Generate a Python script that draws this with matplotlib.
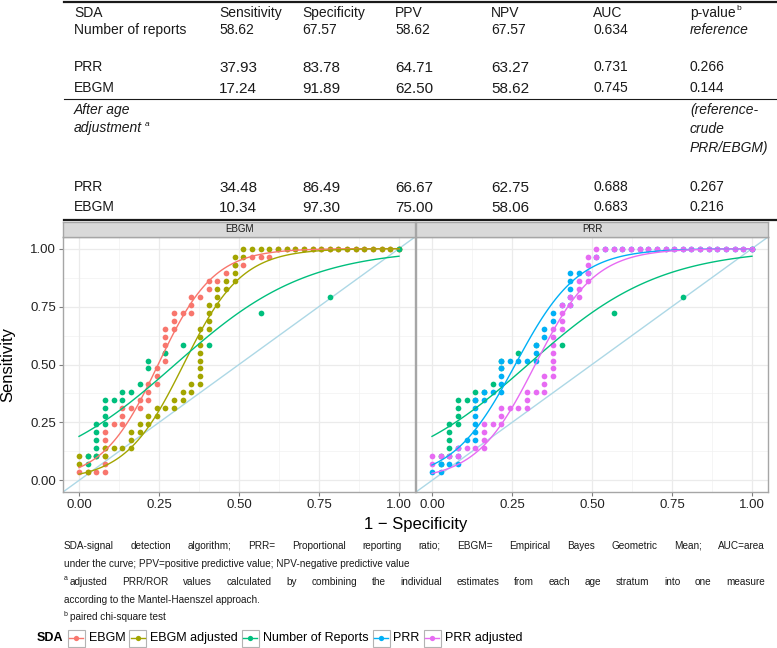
import numpy as np
import matplotlib
matplotlib.use("Agg")
import matplotlib.pyplot as plt
from matplotlib.patches import Rectangle
from matplotlib.lines import Line2D

plt.rcParams["font.family"] = ["Liberation Sans", "DejaVu Sans"]

W, H = 777, 648

# ROC points stored as counts: 37 controls (false positives), 29 cases (true positives)
n_neg = 37
n_pos = 29

ebgm_fp = [0, 1, 2, 3, 3, 3, 3, 3, 3, 4, 5, 5, 5, 6, 7, 7, 8, 8, 8, 9, 9, 9, 10, 10, 10, 10, 10,
           11, 11, 11, 12, 13, 13, 13, 14, 15, 15, 16, 17, 18, 19, 20, 21, 22,
           23, 24, 25, 26, 27, 28, 29, 30, 31, 32, 33, 34, 35, 36, 37]
ebgm_tp = [1, 1, 1, 1, 2, 3, 4, 5, 6, 7, 7, 8, 9, 9, 9, 10, 10, 11, 12, 12, 13, 14, 15, 16, 17, 18, 19,
           19, 20, 21, 21, 21, 22, 23, 23, 24, 25, 25, 26, 27, 27, 28, 28, 28,
           29, 29, 29, 29, 29, 29, 29, 29, 29, 29, 29, 29, 29, 29, 29]

ebgm_adj_fp = [0, 0, 1, 1, 2, 3, 3, 4, 5, 6, 6, 6, 7, 7, 8, 8, 9, 9, 10, 11,
               11, 12, 12, 13, 13, 14, 14, 14, 14, 14, 14, 14, 14, 15, 15, 15, 15, 16, 16, 16,
               17, 17, 18, 18, 18, 18, 19,
               19, 20, 21, 22, 23, 24, 25, 26, 27, 28, 29, 30, 31, 32, 33, 34, 35, 36, 37]
ebgm_adj_tp = [2, 3, 1, 3, 3, 3, 4, 4, 4, 4, 5, 6, 6, 7, 7, 8, 8, 9, 9, 9,
               10, 10, 11, 11, 12, 12, 13, 14, 15, 16, 17, 18, 19, 19, 20, 21, 22, 22, 23, 24,
               24, 25, 25, 26, 27, 28, 28,
               29, 29, 29, 29, 29, 29, 29, 29, 29, 29, 29, 29, 29, 29, 29, 29, 29, 29, 29]

reports_fp = [1, 1, 2, 2, 2, 2, 2, 3, 3, 3, 3, 4, 5, 5, 6, 7, 8, 8, 10, 12, 15, 21, 29, 37]
reports_tp = [2, 3, 3, 4, 5, 6, 7, 7, 8, 9, 10, 10, 10, 11, 11, 12, 14, 15, 16, 17, 17, 21, 23, 29]

prr_fp = [0, 1, 1, 2, 3, 3, 3, 4, 5, 5, 5, 5, 5, 5, 6, 6, 7, 8, 8, 8,
          8, 8, 9, 10, 11, 12, 12, 12, 13, 13, 14, 14, 15, 16, 16, 16, 16, 16, 17, 18, 19,
          20, 21, 22, 23, 24, 25, 26, 27, 28, 29, 30, 31, 32, 33, 34, 35, 36, 37]
prr_tp = [1, 1, 2, 2, 2, 3, 4, 5, 5, 6, 7, 8, 9, 10, 10, 11, 11, 11, 12, 13,
          14, 15, 15, 15, 15, 15, 16, 17, 18, 19, 20, 21, 22, 22, 23, 24, 25, 26, 26, 26, 28,
          29, 29, 29, 29, 29, 29, 29, 29, 29, 29, 29, 29, 29, 29, 29, 29, 29, 29]

prr_adj_fp = [0, 0, 1, 2, 3, 3, 4, 5, 6, 6, 6, 6, 7, 8, 8, 8, 9, 10, 11, 11,
              11, 12, 13, 13, 13, 14, 14, 14, 14, 14, 14, 14, 15, 15, 15, 15, 16, 16, 17, 17,
              17, 18, 18, 18, 18, 19,
              19, 20, 21, 22, 23, 24, 25, 26, 27, 28, 29, 30, 31, 32, 33, 34, 35, 36, 37]
prr_adj_tp = [2, 3, 3, 3, 3, 4, 4, 4, 4, 5, 6, 7, 7, 7, 8, 9, 9, 9, 9, 10,
              11, 11, 11, 12, 13, 13, 14, 15, 16, 17, 18, 19, 19, 20, 21, 22, 22, 23, 23, 24,
              25, 25, 26, 27, 28, 28,
              29, 29, 29, 29, 29, 29, 29, 29, 29, 29, 29, 29, 29, 29, 29, 29, 29, 29, 29]

sda_names = ["EBGM", "EBGM adjusted", "Number of Reports", "PRR", "PRR adjusted"]
sda_colors = ["#F8766D", "#A3A500", "#00BF7D", "#00B0F6", "#E76BF3"]
facets = ["EBGM", "PRR"]
facet_members = [["EBGM", "EBGM adjusted", "Number of Reports"],
                 ["Number of Reports", "PRR", "PRR adjusted"]]

# table values
tab_header = ["SDA", "Sensitivity", "Specificity", "PPV", "NPV", "AUC", "p-value"]
row_labels = ["Number of reports", "PRR", "EBGM", "PRR", "EBGM"]
sens = ["58.62", "37.93", "17.24", "34.48", "10.34"]
spec = ["67.57", "83.78", "91.89", "86.49", "97.30"]
ppv = ["58.62", "64.71", "62.50", "66.67", "75.00"]
npv = ["67.57", "63.27", "58.62", "62.75", "58.06"]
auc = ["0.634", "0.731", "0.745", "0.688", "0.683"]
pval = ["reference", "0.266", "0.144", "0.267", "0.216"]

roc = {
    "EBGM": (ebgm_fp, ebgm_tp),
    "EBGM adjusted": (ebgm_adj_fp, ebgm_adj_tp),
    "Number of Reports": (reports_fp, reports_tp),
    "PRR": (prr_fp, prr_tp),
    "PRR adjusted": (prr_adj_fp, prr_adj_tp),
}
color_of = dict(zip(sda_names, sda_colors))


def logit_fit(x, y):
    # binomial glm on proportions (what stat_smooth did)
    X = np.column_stack([np.ones_like(x), x])
    beta = np.zeros(2)
    for _ in range(60):
        mu = 1 / (1 + np.exp(-(X @ beta)))
        w = np.clip(mu * (1 - mu), 1e-9, None)
        z = X @ beta + (y - mu) / w
        beta = np.linalg.solve(X.T @ (X * w[:, None]), X.T @ (w * z))
    return beta


def px_rect(x0, y0, x1, y1):
    return [x0 / W, 1 - y1 / H, (x1 - x0) / W, (y1 - y0) / H]


fig = plt.figure(figsize=(W / 100, H / 100), dpi=100)

ov = fig.add_axes([0, 0, 1, 1])
ov.set_xlim(0, W)
ov.set_ylim(H, 0)
ov.axis("off")

panels = [(63, 415), (416, 768)]
grid_major = [0, 0.25, 0.5, 0.75, 1.0]
grid_minor = [0.125, 0.375, 0.625, 0.875]

for i, (facet, members) in enumerate(zip(facets, facet_members)):
    x0, x1 = panels[i]
    ax = fig.add_axes(px_rect(x0, 237, x1, 492))
    ax.set_xlim(-0.05, 1.05)
    ax.set_ylim(-0.05, 1.05)
    for g in grid_minor:
        ax.axvline(g, color="#F2F2F2", lw=0.5, zorder=0)
        ax.axhline(g, color="#F2F2F2", lw=0.5, zorder=0)
    for g in grid_major:
        ax.axvline(g, color="#EBEBEB", lw=0.9, zorder=0)
        ax.axhline(g, color="#EBEBEB", lw=0.9, zorder=0)
    ax.axline((0, 0), (1, 1), color="#ADD8E6", lw=1.0, zorder=1)

    for name in members:
        fp, tp = roc[name]
        x = np.array(fp) / n_neg
        y = np.array(tp) / n_pos
        ax.scatter(x, y, s=17, color=color_of[name], linewidths=0, zorder=2)
    for name in members:
        fp, tp = roc[name]
        x = np.array(fp) / n_neg
        y = np.array(tp) / n_pos
        b0, b1 = logit_fit(x, y)
        xs = np.linspace(0, 1, 120)
        ax.plot(xs, 1 / (1 + np.exp(-(b0 + b1 * xs))), color=color_of[name], lw=1.0, zorder=3)

    ax.set_xticks(grid_major)
    ax.set_xticklabels(["0.00", "0.25", "0.50", "0.75", "1.00"])
    ax.set_yticks(grid_major)
    if i == 0:
        ax.set_yticklabels(["0.00", "0.25", "0.50", "0.75", "1.00"])
    else:
        ax.set_yticklabels([])
    ax.tick_params(length=3, color="#7F7F7F", labelsize=9.5, labelcolor="#222222", pad=2)
    if i == 1:
        ax.tick_params(axis="y", length=0)
    for s in ax.spines.values():
        s.set_color("#A6A6A6")
        s.set_linewidth(1.0)

    sax = fig.add_axes(px_rect(x0, 222, x1, 237))
    sax.set_xticks([])
    sax.set_yticks([])
    sax.set_facecolor("#D9D9D9")
    for s in sax.spines.values():
        s.set_color("#A6A6A6")
        s.set_linewidth(1.0)
    sax.text(0.5, 0.5, facet, transform=sax.transAxes, ha="center", va="center",
             fontsize=7, color="#1A1A1A")

# axis titles
ov.text(416, 524, "1 \u2212 Specificity", ha="center", va="center", fontsize=12)
ov.text(8, 364, "Sensitivity", ha="center", va="center", rotation=90, fontsize=12)

renderer = fig.canvas.get_renderer()


def width_of(t):
    return t.get_window_extent(renderer).width


# ---- table ----
col_x = [74, 219, 302, 395, 491, 593, 690]
row_y = [30, 67, 88, 187, 207]
tc = "#1A1A1A"
ov.plot([64, 777], [1.5, 1.5], color=tc, lw=1.6)
ov.plot([64, 777], [99, 99], color=tc, lw=0.8)
ov.plot([64, 777], [219.5, 219.5], color=tc, lw=1.6)

for cx, lab in zip(col_x, tab_header):
    t = ov.text(cx, 13, lab, fontsize=10, va="center", color=tc)
ph = width_of(t)
ov.text(col_x[6] + ph + 1, 9, "b", fontsize=6, va="center", color=tc)

for r, (lab, a, b, c, d, e, p) in enumerate(zip(row_labels, sens, spec, ppv, npv, auc, pval)):
    y = row_y[r]
    big = 10 if r == 0 else 11
    ov.text(col_x[0], y, lab, fontsize=10, va="center", color=tc)
    for cx, v in zip(col_x[1:5], [a, b, c, d]):
        ov.text(cx, y + (0 if r == 0 else 1), v, fontsize=big, va="center", color=tc)
    ov.text(col_x[5], y, e, fontsize=10, va="center", color=tc)
    ov.text(col_x[6], y, p, fontsize=10, va="center", color=tc,
            style="italic" if r == 0 else "normal")

ov.text(col_x[0], 110, "After age", fontsize=10, va="center", style="italic", color=tc)
t = ov.text(col_x[0], 128, "adjustment", fontsize=10, va="center", style="italic", color=tc)
ov.text(col_x[0] + width_of(t) + 3, 124, "a", fontsize=6, va="center", style="italic", color=tc)
for yy, s in zip([110, 129, 148], ["(reference-", "crude", "PRR/EBGM)"]):
    ov.text(col_x[6], yy, s, fontsize=10, va="center", style="italic", color=tc)

# ---- caption ----
cap_size = 7.2


def justify(text, x0, x1, y):
    words = text.split()
    ts = [ov.text(0, y, w, fontsize=cap_size, va="center", color=tc) for w in words]
    ws = [width_of(t) for t in ts]
    gap = (x1 - x0 - sum(ws)) / (len(words) - 1)
    x = x0
    for t, w in zip(ts, ws):
        t.set_x(x)
        x += w + gap


justify("SDA-signal detection algorithm; PRR= Proportional reporting ratio; "
        "EBGM= Empirical Bayes Geometric Mean; AUC=area", 64, 765, 546)
ov.text(64, 564, "under the curve; PPV=positive predictive value; NPV-negative predictive value",
        fontsize=cap_size, va="center", color=tc)
ov.text(64, 579, "a", fontsize=5, va="center", color=tc)
justify("adjusted PRR/ROR values calculated by combining the individual estimates "
        "from each age stratum into one measure", 70, 765, 582)
ov.text(64, 600, "according to the Mantel-Haenszel approach.", fontsize=cap_size, va="center", color=tc)
ov.text(64, 614, "b", fontsize=5, va="center", color=tc)
ov.text(70, 617, "paired chi-square test", fontsize=cap_size, va="center", color=tc)

# ---- legend ----
ly = 638
t = ov.text(37, ly, "SDA", fontsize=9, fontweight="bold", va="center")
x = 37 + width_of(t) + 4
for name, col in zip(sda_names, sda_colors):
    ov.add_patch(Rectangle((x, ly - 8.5), 17, 17, facecolor="white", edgecolor="#B3B3B3", lw=0.8))
    ov.add_line(Line2D([x + 1.5, x + 15.5], [ly, ly], color=col, lw=1.0))
    ov.plot([x + 8.5], [ly], "o", color=col, ms=3.8, mew=0)
    t = ov.text(x + 21, ly, name, fontsize=9, va="center")
    x = x + 21 + width_of(t) + 4

fig.savefig("out.png", dpi=100)
